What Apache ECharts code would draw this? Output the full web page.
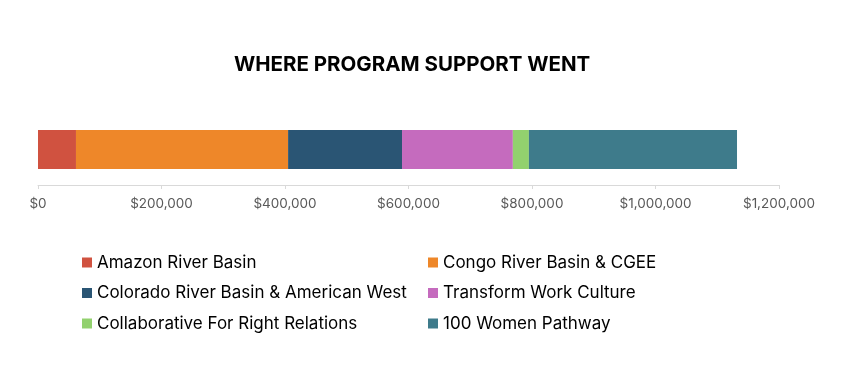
<!DOCTYPE html>
<html><head><meta charset="utf-8">
<script src="https://cdn.jsdelivr.net/npm/echarts@6/dist/echarts.min.js"></script>
<style>html,body{margin:0;padding:0;background:#fff}#c{width:850px;height:381px}</style>
</head><body><div id="c"></div>
<script>
const categories = ['Program Support'];
const seriesNames = ['Amazon River Basin','Congo River Basin & CGEE','Colorado River Basin & American West','Transform Work Culture','Collaborative For Right Relations','100 Women Pathway'];
const seriesValues = [61500, 343500, 184500, 179500, 26000, 337000];
const seriesColors = ['#D05240','#EE8729','#2A5574','#C56BBE','#92D16E','#3E7B8B'];
const tickValues = [0,200000,400000,600000,800000,1000000,1200000];

const font = 'Inter, "Noto Sans", sans-serif';
const chart = echarts.init(document.getElementById('c'));
const legendText = {fontSize:17, color:'#000', fontFamily:font};
chart.setOption({
  animation:false,
  title:{text:'WHERE PROGRAM SUPPORT WENT', left:234, top:54, padding:0,
    textStyle:{fontSize:20.5, fontWeight:'bold', color:'#000', fontFamily:font}},
  grid:{left:38, right:71, top:114, height:71},
  xAxis:{type:'value', min:tickValues[0], max:tickValues[tickValues.length-1], interval:200000,
    axisLine:{show:true, lineStyle:{color:'#d9d9d9'}},
    axisTick:{show:true, length:4, lineStyle:{color:'#d9d9d9'}},
    splitLine:{show:false},
    axisLabel:{color:'#595959', fontSize:13.5, fontFamily:font, margin:12,
      formatter:v=>'$'+v.toLocaleString('en-US')}},
  yAxis:{type:'category', data:categories, show:false},
  legend:[
    {left:82, top:254, orient:'vertical', itemWidth:10, itemHeight:10, itemGap:13.5, padding:0,
     icon:'rect', textStyle:legendText, data:[seriesNames[0],seriesNames[2],seriesNames[4]]},
    {left:428, top:254, orient:'vertical', itemWidth:10, itemHeight:10, itemGap:13.5, padding:0,
     icon:'rect', textStyle:legendText, data:[seriesNames[1],seriesNames[3],seriesNames[5]]}
  ],
  series: seriesNames.map((n,i)=>({
    name:n, type:'bar', stack:'total', barWidth:39,
    itemStyle:{color:seriesColors[i]},
    data:[seriesValues[i]]
  }))
});
</script></body></html>
